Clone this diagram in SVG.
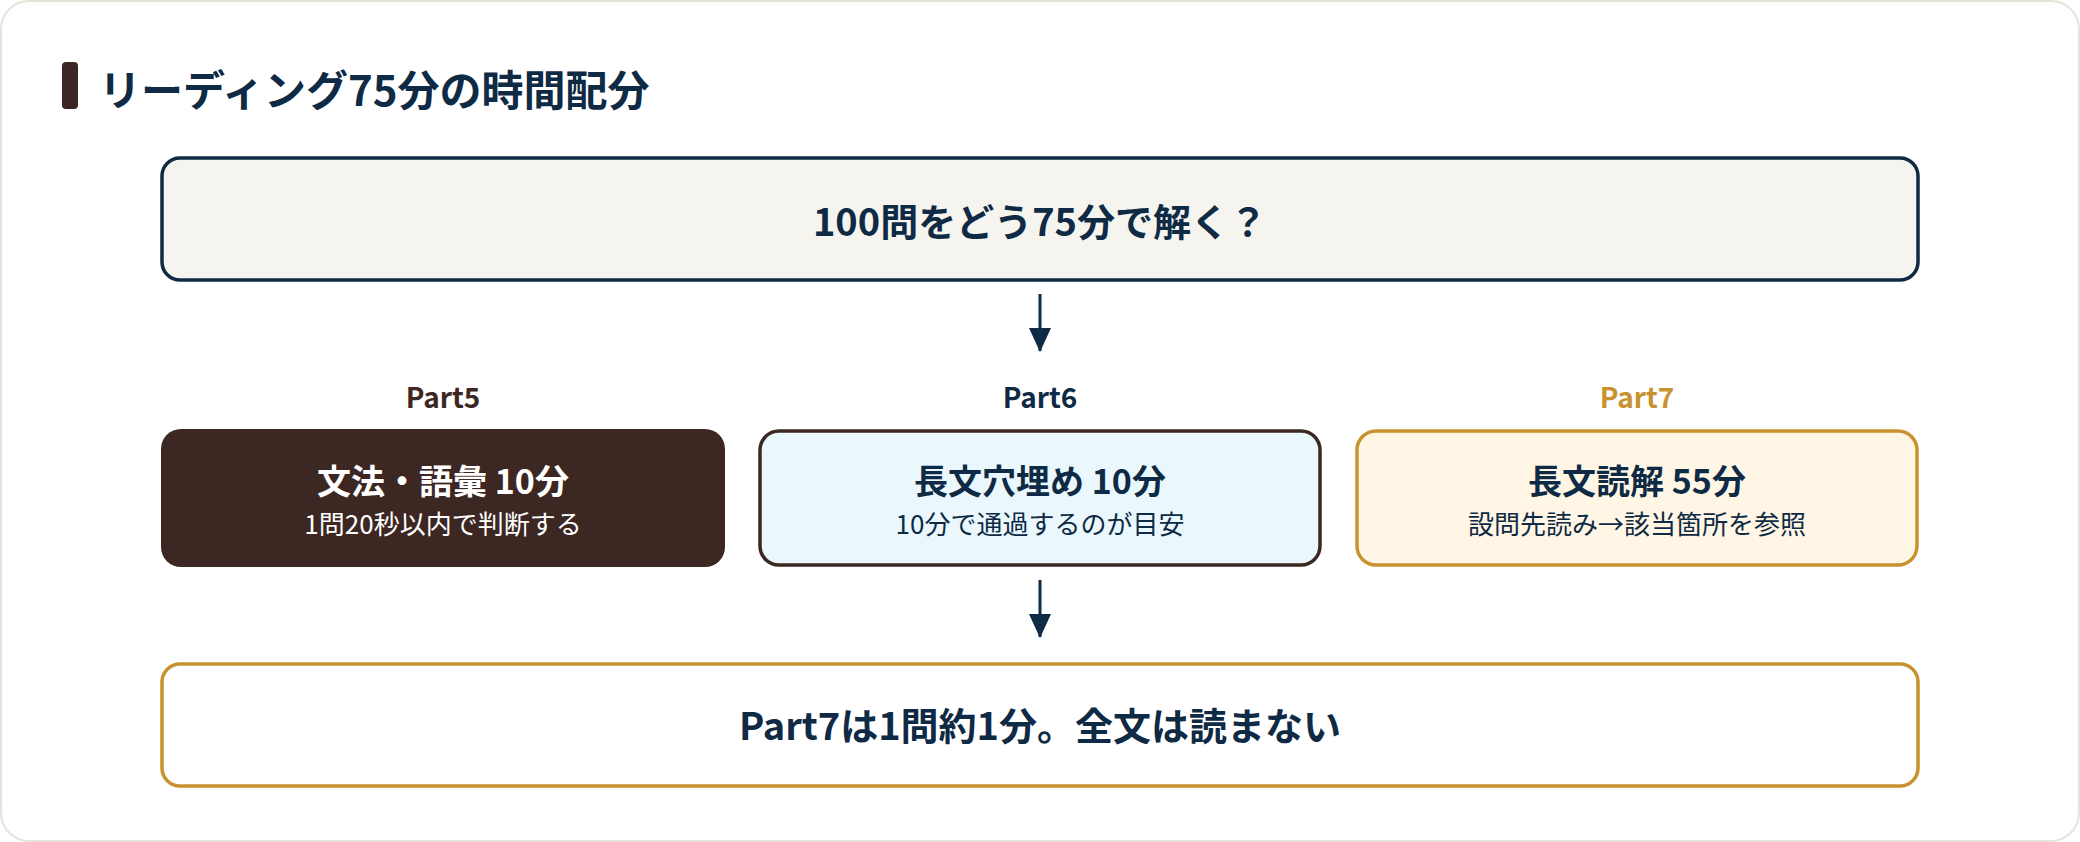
<svg xmlns="http://www.w3.org/2000/svg" width="2080" height="842" viewBox="0 0 2080 842">
  <defs>
    <style>
      text { font-family: "Noto Sans CJK JP", "Noto Sans", sans-serif; text-anchor: middle; }
      .title { font-size: 42px; font-weight: 700; fill: #0f2a44; text-anchor: start; }
      .big { font-size: 38px; font-weight: 700; fill: #0f2a44; }
      .lbl { font-size: 28px; font-weight: 700; }
      .main { font-size: 34px; font-weight: 700; }
      .sub { font-size: 26px; font-weight: 400; }
      .conn { stroke: #0f2a44; stroke-width: 3; fill: none; }
    </style>
    <marker id="arr" viewBox="0 0 24 22" refX="23" refY="11" markerWidth="24" markerHeight="22" markerUnits="userSpaceOnUse" orient="auto">
      <path d="M0,0 L24,11 L0,22 Z" fill="#0f2a44"/>
    </marker>
  </defs>
  <rect x="1" y="1" width="2078" height="840" rx="28" fill="#ffffff" stroke="#e6e4da" stroke-width="2"/>

  <g id="title">
    <rect x="62" y="62" width="16" height="47" rx="4" fill="#3d2723"/>
    <text class="title" x="99" y="106">リーディング75分の時間配分</text>
  </g>

  <g id="question">
    <rect x="162" y="158" width="1756" height="122" rx="18" fill="#f5f4ef" stroke="#0f2a44" stroke-width="3.5"/>
    <text class="big" x="1040" y="236">100問をどう75分で解く？</text>
  </g>

  <g id="part5">
    <text class="lbl" x="443" y="408" fill="#3d2723">Part5</text>
    <rect x="161" y="429" width="564" height="138" rx="20" fill="#3d2723"/>
    <text class="main" x="443" y="494" fill="#ffffff">文法・語彙 10分</text>
    <text class="sub" x="443" y="534" fill="#ffffff">1問20秒以内で判断する</text>
  </g>

  <g id="part6">
    <text class="lbl" x="1040" y="408" fill="#0f2a44">Part6</text>
    <rect x="760" y="431" width="560" height="134" rx="19" fill="#eaf8fd" stroke="#3d2723" stroke-width="3.5"/>
    <text class="main" x="1040" y="494" fill="#0f2a44">長文穴埋め 10分</text>
    <text class="sub" x="1040" y="534" fill="#0f2a44">10分で通過するのが目安</text>
  </g>

  <g id="part7">
    <text class="lbl" x="1637" y="408" fill="#c8922f">Part7</text>
    <rect x="1357" y="431" width="560" height="134" rx="19" fill="#fff6e6" stroke="#c8922f" stroke-width="3.5"/>
    <text class="main" x="1637" y="494" fill="#0f2a44">長文読解 55分</text>
    <text class="sub" x="1637" y="534" fill="#0f2a44">設問先読み→該当箇所を参照</text>
  </g>

  <g id="conclusion">
    <rect x="162" y="664" width="1756" height="122" rx="18" fill="#ffffff" stroke="#c8922f" stroke-width="3.5"/>
    <text class="big" x="1040" y="740">Part7は1問約1分。全文は読まない</text>
  </g>

  <g id="connectors">
    <line class="conn" x1="1040" y1="294" x2="1040" y2="351" marker-end="url(#arr)"/>
    <line class="conn" x1="1040" y1="580" x2="1040" y2="637" marker-end="url(#arr)"/>
  </g>
</svg>
